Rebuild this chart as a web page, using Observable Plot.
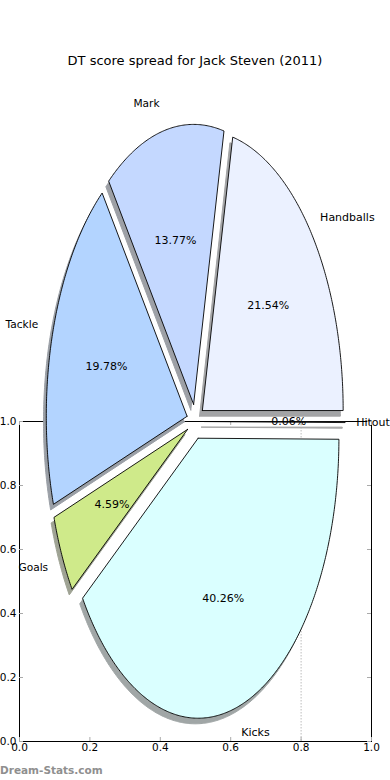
<!DOCTYPE html>
<html><head><meta charset="utf-8">
<script src="https://cdn.jsdelivr.net/npm/d3@7"></script>
<script src="https://cdn.jsdelivr.net/npm/@observablehq/plot@0.6"></script>
<style>
body{margin:0;background:#fff;}
#wrap{position:relative;width:390px;height:780px;font-family:"DejaVu Sans",sans-serif;}
#title{position:absolute;left:0;width:390px;top:52px;text-align:center;font-size:13px;color:#000;line-height:18px;}
#credit{position:absolute;left:0;top:762px;font-size:10.5px;font-weight:bold;color:#8f8f8f;line-height:16px;}
#chart svg{display:block;overflow:visible;}
</style></head><body>
<div id="wrap"><div id="chart"></div><div id="title">DT score spread for Jack Steven (2011)</div><div id="credit">Dream-Stats.com</div></div>
<script>
const categories = ["Handballs","Mark","Tackle","Goals","Kicks","Hitout"];
const shares = [21.54, 13.77, 19.78, 4.59, 40.26, 0.06];
const pctLabels = ["21.54%","13.77%","19.78%","4.59%","40.26%","0.06%"];
const colors = ["#ebf1ff","#c4d8ff","#b3d4ff","#cfea8a","#daffff","#f4f4f4"];
const xTicks = [0, 0.2, 0.4, 0.6, 0.8, 1.0];
const yTicks = [0, 0.2, 0.4, 0.6, 0.8, 1.0];
const guideX = [0.8];

// pie layout (pie units: radius 1) mapped into the axes' data space
const CX = 0.5, CY = 1.0, RX = 0.4, RY = 0.875, EXPLODE = 0.0625, SHADOW = 0.02;
const total = d3.sum(shares);
let acc = 0;
const wedges = categories.map((name, i) => {
  const t1 = acc / total * 2 * Math.PI; acc += shares[i];
  const t2 = acc / total * 2 * Math.PI;
  const tm = (t1 + t2) / 2;
  return {name, t1, t2, tm, ex: EXPLODE * Math.cos(tm), ey: EXPLODE * Math.sin(tm), color: colors[i], pct: pctLabels[i]};
});
function outline(w, du, dv) {
  const pts = [[w.ex + du, w.ey + dv]];
  const n = Math.max(2, Math.ceil((w.t2 - w.t1) / (Math.PI / 360)));
  for (let k = 0; k <= n; k++) {
    const t = w.t1 + (w.t2 - w.t1) * k / n;
    pts.push([w.ex + du + Math.cos(t), w.ey + dv + Math.sin(t)]);
  }
  pts.push(pts[0]);
  return pts.map(([u, v]) => ({x: CX + u * RX, y: CY + v * RY}));
}
function shadowColor(c) {
  const r = d3.rgb(c);
  return d3.rgb(255 * 0.5 + r.r * 0.15, 255 * 0.5 + r.g * 0.15, 255 * 0.5 + r.b * 0.15).formatHex();
}
const px = (w, f) => CX + (w.ex + f * Math.cos(w.tm)) * RX;
const py = (w, f) => CY + (w.ey + f * Math.sin(w.tm)) * RY;

const marks = [
  Plot.frame({stroke: "#000", strokeWidth: 1}),
  Plot.ruleX(guideX, {x: d => d, stroke: "#bdbdbd", strokeDasharray: "1.5,1.5"}),
  Plot.tickX(xTicks, {x: d => d, insetTop: 316, stroke: "#aaa"}),
  Plot.tickX(xTicks, {x: d => d, insetBottom: 316, stroke: "#aaa"}),
  Plot.tickY(yTicks, {y: d => d, insetRight: 348, stroke: "#aaa"}),
  Plot.tickY(yTicks, {y: d => d, insetLeft: 348, stroke: "#aaa"}),
  Plot.axisX(xTicks, {tickSize: 0, tickPadding: 2, tickFormat: d => d.toFixed(1), fontSize: 10.5, fill: "#000", label: null}),
  Plot.axisY(yTicks, {tickSize: 0, tickPadding: 3, tickFormat: d => d.toFixed(1), fontSize: 10.5, fill: "#000", label: null}),
  ...wedges.map(w => Plot.line(outline(w, -SHADOW, -SHADOW), {x: "x", y: "y", fill: shadowColor(w.color), stroke: shadowColor(w.color), strokeWidth: 1, curve: "linear"})),
  ...wedges.map(w => Plot.line(outline(w, 0, 0), {x: "x", y: "y", fill: w.color, stroke: "#000", strokeWidth: 0.9, curve: "linear"})),
  Plot.text(wedges, {x: w => px(w, 0.6), y: w => py(w, 0.6), text: "pct", fontSize: 11, fill: "#000"}),
  Plot.text(wedges.filter(w => Math.cos(w.tm) > 0), {x: w => px(w, 1.1), y: w => py(w, 1.1), text: "name", textAnchor: "start", dx: -3, fontSize: 11, fill: "#000"}),
  Plot.text(wedges.filter(w => Math.cos(w.tm) <= 0), {x: w => px(w, 1.1), y: w => py(w, 1.1), text: "name", textAnchor: "end", dx: -1, fontSize: 10.6, fill: "#000"})
];

const chart = Plot.plot({
  width: 390, height: 780,
  marginTop: 421, marginBottom: 39, marginLeft: 19, marginRight: 19,
  x: {domain: [0, 1], label: null},
  y: {domain: [0, 1], label: null},
  style: {fontFamily: "DejaVu Sans", fontSize: "10.5px", background: "white", color: "#000", overflow: "visible"},
  marks
});
document.getElementById("chart").appendChild(chart);
</script>
</body></html>
